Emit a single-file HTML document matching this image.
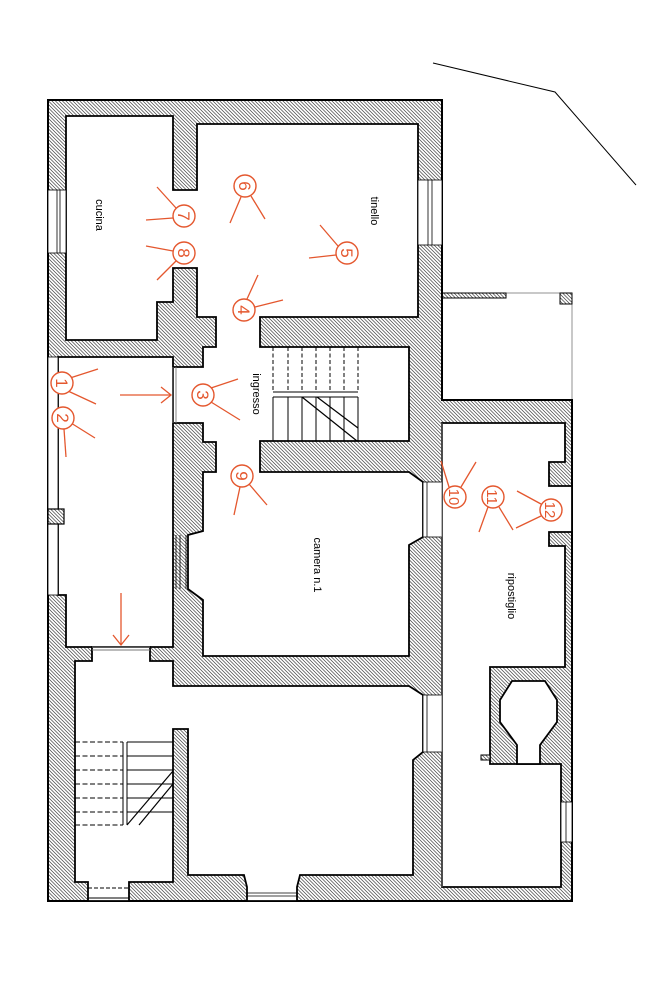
<!DOCTYPE html>
<html><head><meta charset="utf-8"><style>
html,body{margin:0;padding:0;background:#fff}
svg{display:block}
text{font-family:"Liberation Sans",sans-serif}
</style></head><body>
<svg width="663" height="994" viewBox="0 0 663 994" xmlns="http://www.w3.org/2000/svg">
<defs>
<pattern id="h" patternUnits="userSpaceOnUse" width="3.5" height="3.5">
<rect width="3.5" height="3.5" fill="#fff"/>
<path d="M-1,-1 L4.5,4.5 M-1,2.5 L1,4.5 M2.5,-1 L4.5,1" stroke="#444" stroke-width="0.7"/>
</pattern>
</defs>
<!-- site line -->
<polyline points="433,63 555,92 636,185" fill="none" stroke="#000" stroke-width="1"/>
<!-- open porch top right -->
<rect x="442" y="293" width="130" height="107" fill="none" stroke="#777" stroke-width="0.8"/>
<rect x="442" y="293" width="64" height="5" fill="url(#h)" stroke="#000" stroke-width="1"/>
<rect x="560" y="293" width="12" height="11" fill="url(#h)" stroke="#000" stroke-width="1"/>
<!-- hatched mass -->
<path d="M48,100 H442 V400 H572 V901 H48 Z" fill="url(#h)" stroke="#000" stroke-width="2"/>

<g fill="#fff" stroke="#000" stroke-width="1.8" stroke-linejoin="miter">
<!-- cucina + tinello + ingresso + stair + camera -->
<path d="M66,116 H173 V190 H197 V124 H418 V317 H260 V347 H409 V441 H260 V472 H409 L423,482 V537 L409,545 V656 H203 V600 L188,589 V535 L203,531 V472 H216 V442 H203 V423 H173 V367 H203 V347 H216 V317 H197 V268 H173 V302 H157 V340 H66 Z"/>
<!-- porch -->
<path d="M58,357 H173 V647 H66 V595 H58 Z"/>
<!-- stair hall + lower room -->
<path d="M75,661 H92 V647 H150 V661 H173 V686 H409 L423,695 V752 L413,760 V875 H300 L297,887 V901 H247 V887 L244,875 H188 V729 H173 V882 H129 V901 H88 V882 H75 Z"/>
<!-- annex -->
<path d="M442,423 H565 V462 H549 V486 H572 V532 H549 V546 H565 V667 H490 V764 H561 V887 H442 Z"/>
<!-- fireplace opening -->
<path d="M500,700 L512,681 H545 L557,700 V722 L540,745 V764 H517 V745 L500,722 Z"/>
</g>
<rect x="481" y="755" width="9" height="5" fill="url(#h)" stroke="#000" stroke-width="1"/>

<!-- windows / openings -->
<g fill="#fff" stroke="#000" stroke-width="0.8">
<rect x="48" y="190" width="18" height="63"/>
<line x1="57" y1="190" x2="57" y2="253"/><line x1="60" y1="190" x2="60" y2="253"/>
<rect x="418" y="180" width="24" height="65"/>
<line x1="428" y1="180" x2="428" y2="245"/><line x1="432" y1="180" x2="432" y2="245"/>
<rect x="48" y="357" width="10" height="238"/>
<rect x="173" y="589" width="15" height="0" />
<line x1="176" y1="535" x2="176" y2="589"/><line x1="180" y1="535" x2="180" y2="589"/><line x1="186" y1="535" x2="186" y2="589"/>
<rect x="423" y="482" width="19" height="55"/>
<line x1="427" y1="482" x2="427" y2="537"/>
<rect x="423" y="695" width="19" height="57"/>
<line x1="427" y1="695" x2="427" y2="752"/>
<rect x="561" y="802" width="11" height="40"/>
<line x1="566" y1="802" x2="566" y2="842"/>
<line x1="247" y1="893" x2="297" y2="893"/><line x1="247" y1="896" x2="297" y2="896"/>
</g>
<rect x="48" y="509" width="16" height="15" fill="url(#h)" stroke="#000" stroke-width="1.2"/>
<!-- doors -->
<g stroke="#777" stroke-width="0.9">
<line x1="173" y1="367" x2="173" y2="423"/><line x1="176" y1="367" x2="176" y2="423"/>
<line x1="92" y1="647" x2="150" y2="647"/><line x1="92" y1="650" x2="150" y2="650"/>
<line x1="442" y1="423" x2="442" y2="887"/>
</g>
<g stroke="#000" stroke-width="0.9" stroke-dasharray="4,2">
<line x1="88" y1="888" x2="129" y2="888"/>
</g>
<line x1="88" y1="898" x2="129" y2="898" stroke="#000" stroke-width="0.9"/>

<!-- upper stair (ingresso) -->
<g stroke="#000" stroke-width="1" fill="none">
<g stroke-dasharray="4,2.5">
<line x1="273" y1="347" x2="273" y2="392"/><line x1="288" y1="347" x2="288" y2="392"/>
<line x1="302" y1="347" x2="302" y2="392"/><line x1="316" y1="347" x2="316" y2="392"/>
<line x1="330" y1="347" x2="330" y2="392"/><line x1="344" y1="347" x2="344" y2="392"/>
<line x1="358" y1="347" x2="358" y2="392"/>
</g>
<line x1="273" y1="392" x2="358" y2="392"/><line x1="273" y1="397" x2="358" y2="397"/>
<line x1="273" y1="397" x2="273" y2="441"/><line x1="288" y1="397" x2="288" y2="441"/>
<line x1="302" y1="397" x2="302" y2="441"/><line x1="316" y1="397" x2="316" y2="441"/>
<line x1="330" y1="397" x2="330" y2="441"/><line x1="344" y1="397" x2="344" y2="441"/>
<line x1="358" y1="397" x2="358" y2="441"/>
<line x1="302" y1="397" x2="357" y2="441" stroke-width="1.2"/>
<line x1="317" y1="397" x2="358" y2="428" stroke-width="1.2"/>
</g>
<!-- lower stair -->
<g stroke="#000" stroke-width="1" fill="none">
<g stroke-dasharray="5,2.5">
<line x1="75" y1="742" x2="123" y2="742"/><line x1="75" y1="756" x2="123" y2="756"/>
<line x1="75" y1="770" x2="123" y2="770"/><line x1="75" y1="784" x2="123" y2="784"/>
<line x1="75" y1="798" x2="123" y2="798"/><line x1="75" y1="812" x2="123" y2="812"/>
<line x1="75" y1="825" x2="123" y2="825"/>
</g>
<line x1="123" y1="742" x2="123" y2="825"/><line x1="127" y1="742" x2="127" y2="825"/>
<line x1="127" y1="742" x2="173" y2="742"/><line x1="127" y1="756" x2="173" y2="756"/>
<line x1="127" y1="770" x2="173" y2="770"/><line x1="127" y1="784" x2="173" y2="784"/>
<line x1="127" y1="798" x2="173" y2="798"/><line x1="127" y1="812" x2="173" y2="812"/>
<line x1="127" y1="825" x2="173" y2="771" stroke-width="1.2"/>
<line x1="139" y1="825" x2="173" y2="784" stroke-width="1.2"/>
</g>

<!-- room labels -->
<g font-size="11" fill="#000">
<text transform="translate(96,215) rotate(90)" text-anchor="middle">cucina</text>
<text transform="translate(371,211) rotate(90)" text-anchor="middle">tinello</text>
<text transform="translate(253,394) rotate(90)" text-anchor="middle">ingresso</text>
<text transform="translate(314,565) rotate(90)" text-anchor="middle">camera n.1</text>
<text transform="translate(508,596) rotate(90)" text-anchor="middle">ripostiglio</text>
</g>

<!-- red markers -->
<g stroke="#e4572e" stroke-width="1.3" fill="none">
<line x1="70" y1="378" x2="98" y2="369"/><line x1="68" y1="391" x2="96" y2="404"/>
<line x1="71" y1="423" x2="95" y2="438"/><line x1="64" y1="429" x2="66" y2="457"/>
<line x1="211" y1="388" x2="238" y2="379"/><line x1="211" y1="402" x2="240" y2="420"/>
<line x1="247" y1="299" x2="258" y2="275"/><line x1="255" y1="307" x2="283" y2="300"/>
<line x1="338" y1="246" x2="320" y2="225"/><line x1="336" y1="255" x2="309" y2="258"/>
<line x1="241" y1="197" x2="230" y2="223"/><line x1="251" y1="196" x2="265" y2="219"/>
<line x1="176" y1="208" x2="157" y2="187"/><line x1="173" y1="218" x2="146" y2="220"/>
<line x1="173" y1="251" x2="146" y2="246"/><line x1="176" y1="261" x2="157" y2="280"/>
<line x1="240" y1="487" x2="234" y2="515"/><line x1="249" y1="484" x2="267" y2="505"/>
<line x1="449" y1="487" x2="441" y2="461"/><line x1="461" y1="487" x2="476" y2="462"/>
<line x1="488" y1="507" x2="479" y2="532"/><line x1="499" y1="507" x2="513" y2="530"/>
<line x1="541" y1="504" x2="517" y2="491"/><line x1="541" y1="516" x2="516" y2="528"/>
<line x1="120" y1="395" x2="171" y2="395"/><polyline points="161,387 171,395 161,403"/>
<line x1="121" y1="593" x2="121" y2="645"/><polyline points="113,635 121,645 129,635"/>
</g>
<g stroke="#e4572e" stroke-width="1.4" fill="#fff">
<circle cx="62" cy="383" r="11"/><circle cx="63" cy="418" r="11"/>
<circle cx="203" cy="395" r="11"/><circle cx="244" cy="310" r="11"/>
<circle cx="347" cy="253" r="11"/><circle cx="245" cy="186" r="11"/>
<circle cx="184" cy="216" r="11"/><circle cx="184" cy="253" r="11"/>
<circle cx="242" cy="476" r="11"/><circle cx="455" cy="497" r="11"/>
<circle cx="493" cy="497" r="11"/><circle cx="551" cy="510" r="11"/>
</g>
<g fill="#e4572e" font-size="17" text-anchor="middle">
<text transform="translate(56,383) rotate(90)">1</text>
<text transform="translate(57,418) rotate(90)">2</text>
<text transform="translate(197,395) rotate(90)">3</text>
<text transform="translate(238,310) rotate(90)">4</text>
<text transform="translate(341,253) rotate(90)">5</text>
<text transform="translate(239,186) rotate(90)">6</text>
<text transform="translate(178,216) rotate(90)">7</text>
<text transform="translate(178,253) rotate(90)">8</text>
<text transform="translate(236,476) rotate(90)">9</text>
<text transform="translate(449,497) rotate(90)" font-size="15">10</text>
<text transform="translate(487,497) rotate(90)" font-size="15">11</text>
<text transform="translate(545,510) rotate(90)" font-size="15">12</text>
</g>
</svg>
</body></html>
